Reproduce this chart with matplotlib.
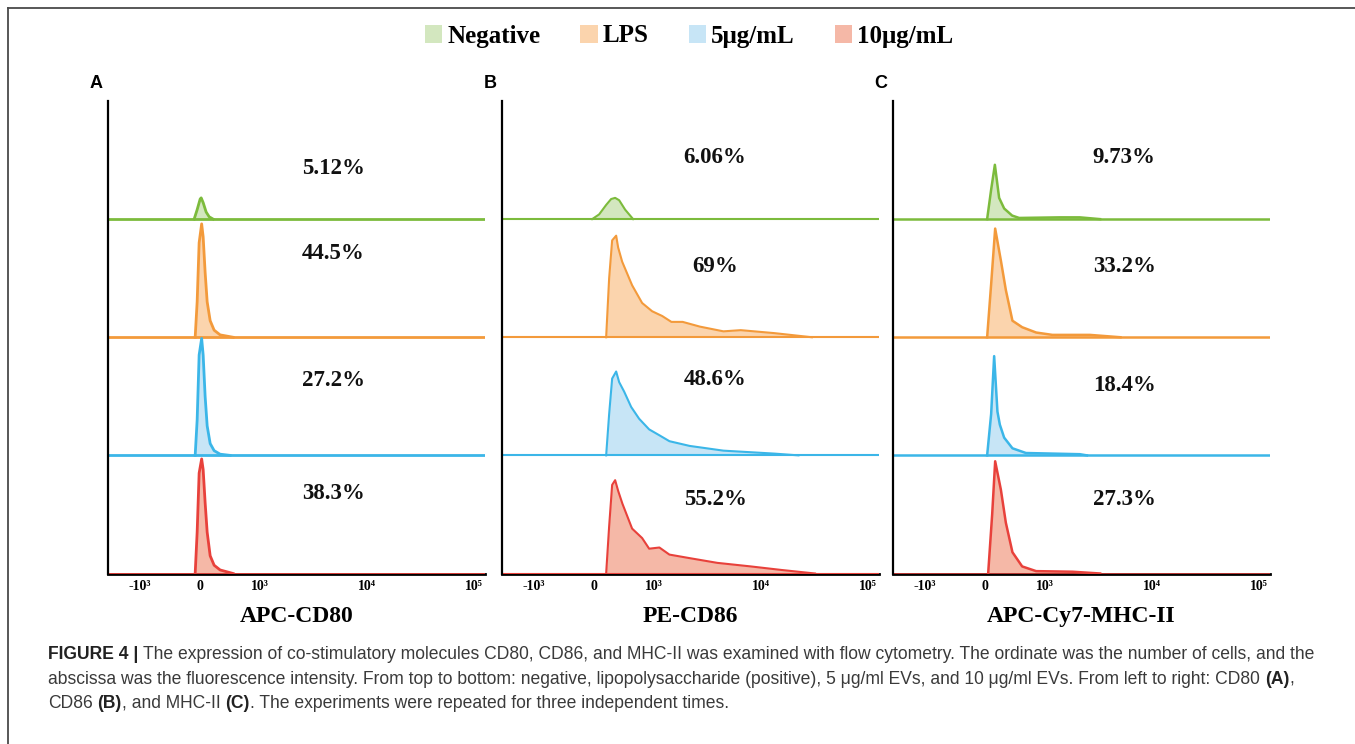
import matplotlib
matplotlib.use("Agg")
import matplotlib.pyplot as plt
from matplotlib import font_manager
from matplotlib.lines import Line2D
from matplotlib.patches import Patch
from matplotlib.transforms import blended_transform_factory

W, H = 1355, 744

groups = ["Negative", "LPS", "5μg/mL", "10μg/mL"]
line_colors = ["#7cbb3c", "#f39a3b", "#3bb6e8", "#e8413b"]
fill_colors = ["#d3e7bf", "#fbd4ad", "#c7e5f6", "#f5b8a7"]

panel_letters = ["A", "B", "C"]
markers = ["APC-CD80", "PE-CD86", "APC-Cy7-MHC-II"]

percents = [["5.12%", "44.5%", "27.2%", "38.3%"],
            ["6.06%", "69%", "48.6%", "55.2%"],
            ["9.73%", "33.2%", "18.4%", "27.3%"]]

tick_values = [-1e3, 0, 1e3, 1e4, 1e5]
tick_labels = ["-10³", "0", "10³", "10⁴", "10⁵"]

# fluorescence intensity / histogram height (fraction of one row)
cd80_neg_x = [-100, -50, 0, 17, 50, 100, 150, 217]
cd80_neg_y = [0, 0.08, 0.17, 0.18, 0.14, 0.06, 0.02, 0]
cd80_lps_x = [-83, -50, -17, 25, 50, 83, 117, 167, 233, 333, 550]
cd80_lps_y = [0, 0.30, 0.80, 0.96, 0.85, 0.55, 0.30, 0.14, 0.06, 0.02, 0]
cd80_ev5_x = [-83, -50, -17, 25, 50, 83, 117, 167, 233, 333, 500]
cd80_ev5_y = [0, 0.30, 0.85, 0.99, 0.85, 0.50, 0.25, 0.10, 0.04, 0.01, 0]
cd80_ev10_x = [-83, -50, -17, 25, 50, 83, 117, 167, 233, 333, 550]
cd80_ev10_y = [0, 0.35, 0.85, 0.97, 0.88, 0.60, 0.35, 0.15, 0.07, 0.03, 0]

cd86_neg_x = [-33, 83, 200, 283, 350, 417, 517, 650]
cd86_neg_y = [0, 0.04, 0.12, 0.17, 0.18, 0.16, 0.08, 0]
cd86_lps_x = [200, 250, 300, 367, 400, 467, 633, 800, 967, 1190, 1450, 1850,
              2680, 4450, 6460, 13300, 29900]
cd86_lps_y = [0, 0.50, 0.82, 0.86, 0.76, 0.64, 0.44, 0.29, 0.22, 0.18, 0.13,
              0.13, 0.09, 0.05, 0.06, 0.035, 0]
cd86_ev5_x = [200, 250, 300, 367, 417, 500, 617, 750, 917, 1120, 1390, 2150,
              4450, 13300, 22400]
cd86_ev5_y = [0, 0.35, 0.65, 0.71, 0.62, 0.54, 0.41, 0.31, 0.22, 0.17, 0.12,
              0.08, 0.04, 0.015, 0]
cd86_ev10_x = [200, 250, 300, 350, 400, 472, 633, 800, 917, 1120, 1390, 2150,
               3900, 8000, 15500, 32000]
cd86_ev10_y = [0, 0.40, 0.75, 0.79, 0.70, 0.59, 0.38, 0.30, 0.21, 0.22, 0.16,
               0.13, 0.09, 0.06, 0.03, 0]

mhc_neg_x = [33, 100, 162, 233, 317, 450, 567, 1360, 2110, 3270]
mhc_neg_y = [0, 0.25, 0.46, 0.18, 0.09, 0.03, 0.01, 0.015, 0.015, 0]
mhc_lps_x = [33, 100, 167, 262, 345, 455, 617, 850, 1170, 2620, 5070]
mhc_lps_y = [0, 0.45, 0.92, 0.65, 0.40, 0.14, 0.085, 0.04, 0.02, 0.02, 0]
mhc_ev5_x = [33, 100, 150, 205, 245, 317, 455, 680, 2110, 2460]
mhc_ev5_y = [0, 0.35, 0.84, 0.37, 0.26, 0.15, 0.06, 0.02, 0.01, 0]
mhc_ev10_x = [50, 117, 167, 262, 345, 455, 617, 850, 1810, 3270]
mhc_ev10_y = [0, 0.50, 0.95, 0.71, 0.43, 0.18, 0.06, 0.02, 0.015, 0]

curves = [
    [(cd80_neg_x, cd80_neg_y), (cd80_lps_x, cd80_lps_y),
     (cd80_ev5_x, cd80_ev5_y), (cd80_ev10_x, cd80_ev10_y)],
    [(cd86_neg_x, cd86_neg_y), (cd86_lps_x, cd86_lps_y),
     (cd86_ev5_x, cd86_ev5_y), (cd86_ev10_x, cd86_ev10_y)],
    [(mhc_neg_x, mhc_neg_y), (mhc_lps_x, mhc_lps_y),
     (mhc_ev5_x, mhc_ev5_y), (mhc_ev10_x, mhc_ev10_y)],
]

# layout (pixels in the 1355x744 picture)
panel_left = [108, 502, 893]
panel_width = 377
ax_top, ax_bottom = 101, 573.5
label_xfrac = [0.597, 0.565, 0.613]
label_rows = [[3.43, 2.71, 1.63, 0.68],
              [3.52, 2.60, 1.64, 0.63],
              [3.52, 2.60, 1.59, 0.63]]
line_widths = [2.0, 1.5, 1.8]

SERIF = ["Liberation Serif", "DejaVu Serif"]
SANS = ["Liberation Sans", "DejaVu Sans"]

fig = plt.figure(figsize=(W / 100, H / 100), dpi=100)

for p in range(3):
    ax = fig.add_axes([panel_left[p] / W, 1 - ax_bottom / H,
                       panel_width / W, (ax_bottom - ax_top) / H])
    ax.set_xscale("symlog", linthresh=1000, linscale=0.505)
    ax.set_xlim(-2000, 1.27e5)
    ax.set_ylim(0, 4)
    for i in range(4):
        base = 3 - i
        xs, hs = curves[p][i]
        ys = [base + h for h in hs]
        ax.axhline(base, color=line_colors[i], lw=line_widths[p], zorder=3)
        ax.fill_between(xs, base, ys, color=fill_colors[i], lw=0, zorder=2)
        ax.plot(xs, ys, color=line_colors[i], lw=line_widths[p], zorder=4)
        tr = blended_transform_factory(ax.transAxes, ax.transData)
        ax.text(label_xfrac[p], label_rows[p][i], percents[p][i], transform=tr,
                ha="center", va="center", fontsize=16.5, fontweight="bold",
                family=SERIF, color="#111111")
    for s in ["top", "right"]:
        ax.spines[s].set_visible(False)
    ax.spines["left"].set_linewidth(1.6)
    ax.spines["bottom"].set_linewidth(2.0)
    ax.spines["left"].set_zorder(5)
    ax.set_yticks([])
    ax.set_xticks(tick_values)
    ax.set_xticklabels(tick_labels, family=SERIF, fontweight="bold", fontsize=10)
    ax.xaxis.set_minor_locator(matplotlib.ticker.NullLocator())
    ax.tick_params(axis="x", length=0, pad=5)
    ax.set_xlabel(markers[p], family=SERIF, fontweight="bold", fontsize=17,
                  labelpad=9)
    fig.text((panel_left[p] - 12) / W, 1 - 84 / H, panel_letters[p],
             ha="center", va="center", fontsize=13, fontweight="bold",
             family=SANS)

handles = [Patch(facecolor=c, edgecolor="none") for c in fill_colors]
fig.legend(handles, groups, loc="center", bbox_to_anchor=(689 / W, 1 - 36 / H),
           ncol=4, frameon=False, handlelength=0.7, handleheight=0.7,
           handletextpad=0.2, columnspacing=1.6,
           prop={"family": SERIF, "weight": "bold", "size": 18})

# outer frame
fig.add_artist(Line2D([8 / W, 1], [1 - 8 / H, 1 - 8 / H], color="#4a4a4a", lw=1.3))
fig.add_artist(Line2D([8 / W, 8 / W], [0, 1 - 8 / H], color="#4a4a4a", lw=1.3))

# caption
names = {f.name for f in font_manager.fontManager.ttflist}
cap_font = "Liberation Sans Narrow" if "Liberation Sans Narrow" in names else "Liberation Sans"
caption = [
    [("FIGURE 4 |", True),
     (" The expression of co-stimulatory molecules CD80, CD86, and MHC-II was "
      "examined with flow cytometry. The ordinate was the number of cells, and the", False)],
    [("abscissa was the fluorescence intensity. From top to bottom: negative, "
      "lipopolysaccharide (positive), 5 μg/ml EVs, and 10 μg/ml EVs. From left to "
      "right: CD80", False), (" (A)", True), (",", False)],
    [("CD86", False), (" (B)", True), (", and MHC-II", False), (" (C)", True),
     (". The experiments were repeated for three independent times.", False)],
]
cap_baseline = [659, 684, 708]
renderer = fig.canvas.get_renderer()


def width_of(txt, bold, size):
    t = fig.text(0, 0, txt, fontsize=size, family=cap_font,
                 fontweight="bold" if bold else "normal")
    w = t.get_window_extent(renderer).width
    t.remove()
    return w


def line_width(segs, size):
    sp = width_of("x x", False, size) - width_of("xx", False, size)
    total = 0
    for txt, bold in segs:
        if txt.startswith(" "):
            total += sp
        total += width_of(txt.strip(), bold, size)
    return total


cap_size = 12 * 1270 / line_width(caption[0], 12)
space_w = width_of("x x", False, cap_size) - width_of("xx", False, cap_size)
for segs, y in zip(caption, cap_baseline):
    x = 48
    for txt, bold in segs:
        if txt.startswith(" "):
            x += space_w
        txt = txt.strip()
        t = fig.text(x / W, 1 - y / H, txt, fontsize=cap_size, family=cap_font,
                     fontweight="bold" if bold else "normal", va="baseline",
                     color="#222222" if bold else "#3a3a3a")
        x += t.get_window_extent(renderer).width

fig.savefig("out.png", dpi=100)
